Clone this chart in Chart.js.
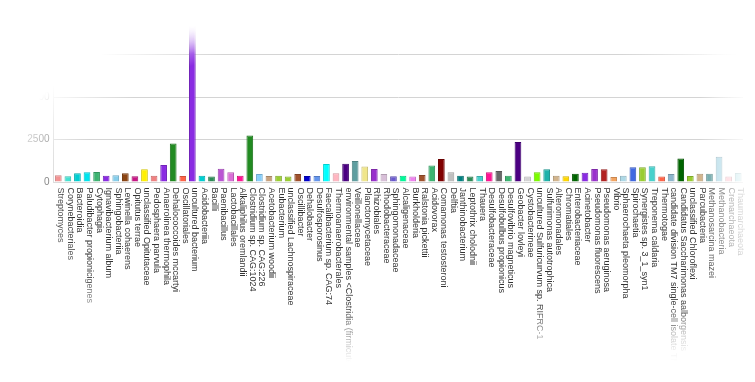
<!DOCTYPE html>
<html>
<head>
<meta charset="utf-8">
<script src="https://cdn.jsdelivr.net/npm/chart.js@4.4.1/dist/chart.umd.min.js"></script>
<style>
  html, body { margin: 0; padding: 0; background: #ffffff; }
  #m1 { position: absolute; left: 0; top: 0; width: 755px; height: 382px;
        -webkit-mask-image: linear-gradient(to right, #000 0px, #000 700px, transparent 752px);
        mask-image: linear-gradient(to right, #000 0px, #000 700px, transparent 752px);
        filter: blur(0.4px); }
  #m2 { width: 755px; height: 382px;
        -webkit-mask-image: linear-gradient(to bottom, transparent 26px, #000 54px, #000 300px, transparent 362px);
        mask-image: linear-gradient(to bottom, transparent 26px, #000 54px, #000 300px, transparent 362px); }
  #m3 { width: 755px; height: 382px;
        -webkit-mask-image: radial-gradient(400px 200px at 420px 200px, #000 88%, transparent 108%);
        mask-image: radial-gradient(400px 200px at 420px 200px, #000 88%, transparent 108%); }
  canvas { display: block; }
</style>
</head>
<body>
<div id="m1"><div id="m2"><div id="m3"><canvas id="c" width="755" height="382"></canvas></div></div></div>
<script>
const categories = [
  "Streptomyces", "Corynebacteriales", "Bacteroidia", "Paludibacter propionicigenes", "Cytophagia",
  "Ignavibacterium album", "Sphingobacteriia", "Lewinella cohaerens", "Opitutus terrae", "unclassified Opitutaceae",
  "Pedosphaera parvula", "Anaerolinea thermophila", "Dehalococcoides mccartyi", "Oscillatoriales", "uncultured bacterium",
  "Acidobacteriia", "Bacilli", "Paenibacillus", "Lactobacillales", "Alkaliphilus oremlandii",
  "Clostridium sp. CAG:1024", "Clostridium sp. CAG:226", "Acetobacterium woodii", "Eubacterium", "unclassified Lachnospiraceae",
  "Oscillibacter", "Dehalobacter", "Desulfosporosinus", "Faecalibacterium sp. CAG:74", "Thermoanaerobacterales",
  "environmental samples <Clostridia (firmicutes)>", "Veillonellaceae", "Planctomycetaceae", "Rhizobiales", "Rhodobacteraceae",
  "Sphingomonadaceae", "Alcaligenaceae", "Burkholderia", "Ralstonia pickettii", "Acidovorax",
  "Comamonas testosteroni", "Delftia", "Janthinobacterium", "Leptothrix cholodnii", "Thauera",
  "Desulfobacteraceae", "Desulfobulbus propionicus", "Desulfovibrio magneticus", "Geobacter lovleyi", "Cystobacterineae",
  "uncultured Sulfuricurvum sp. RIFRC-1", "Sulfurimonas autotrophica", "Alteromonadales", "Chromatiales", "Enterobacteriaceae",
  "Acinetobacter", "Pseudomonas fluorescens", "Pseudomonas aeruginosa", "Vibrio", "Sphaerochaeta pleomorpha",
  "Spirochaetia", "Synergistes sp. 3_1_syn1", "Treponema caldaria", "Thermotogae", "candidate division TM7 single-cell isolate TM7c",
  "Candidatus Saccharimonas aalborgensis", "unclassified Chloroflexi", "Parcubacteria", "Methanosarcina mazei", "Methanobacteria",
  "Crenarchaeota", "Thaumarchaeota"
];
const values = [
  400, 335, 510, 570, 590,
  375, 395, 510, 335, 750,
  375, 1000, 2260, 355, 9400,
  375, 320, 780, 570, 375,
  2730, 470, 355, 375, 320,
  470, 355, 355, 1060, 510,
  1080, 1240, 905, 770, 470,
  335, 375, 320, 415, 965,
  1360, 570, 375, 320, 355,
  570, 650, 375, 2360, 320,
  570, 750, 375, 335, 490,
  550, 770, 750, 300, 375,
  865, 865, 925, 320, 470,
  1380, 355, 490, 490, 1480,
  320, 530
];
const barColors = [
  "#F08080", "#40E0D0", "#00CED1", "#00E5EE", "#3CB371",
  "#8A2BE2", "#87CEEB", "#8B4513", "#C71585", "#FFF000",
  "#F08080", "#8A2BE2", "#228B22", "#FF6347", "#8A2BE2",
  "#00CED1", "#2E8B57", "#BA55D3", "#DA70D6", "#FF1493",
  "#228B22", "#87CEFA", "#C9A27E", "#9ACD32", "#9ACD32",
  "#A0522D", "#0000CD", "#6495ED", "#00FFFF", "#FFB6C1",
  "#4B0082", "#5F9EA0", "#F0E68C", "#9932CC", "#D8BFD8",
  "#6A5ACD", "#00FA9A", "#EE82EE", "#A0522D", "#3CB371",
  "#800000", "#C0C0C0", "#008080", "#2E8B57", "#48D1CC",
  "#FF1493", "#696969", "#3CB371", "#4B0082", "#D3D3D3",
  "#7CFC00", "#20B2AA", "#D2B48C", "#FFD700", "#006400",
  "#8A2BE2", "#9932CC", "#B22222", "#F4A460", "#ADD8E6",
  "#4169E1", "#9ACD32", "#48D1CC", "#FF6347", "#8DB6CD",
  "#006400", "#9ACD32", "#D2B48C", "#5F9EA0", "#ADD8E6",
  "#FFC0CB", "#B0E0E6"
];
const yTicks = [0, 2500, 5000, 7500, 10000];

function darken(hex, f) {
  const n = parseInt(hex.slice(1), 16);
  const r = Math.round(((n >> 16) & 255) * f);
  const g = Math.round(((n >> 8) & 255) * f);
  const b = Math.round((n & 255) * f);
  return "rgb(" + r + "," + g + "," + b + ")";
}

const labelPlugin = {
  id: "verticalLabels",
  afterDraw(chart) {
    const xs = chart.scales.x;
    const ctx = chart.ctx;
    const y0 = chart.chartArea.bottom + 5.5;
    ctx.save();
    ctx.font = '9px "Liberation Sans", Arial, sans-serif';
    ctx.fillStyle = "#333333";
    ctx.textAlign = "left";
    ctx.textBaseline = "alphabetic";
    categories.forEach((name, i) => {
      const x = xs.getPixelForTick(i);
      ctx.save();
      ctx.translate(x, y0);
      ctx.rotate(Math.PI / 2);
      ctx.fillText(name, 0, 0);
      ctx.restore();
    });
    ctx.restore();
  }
};

Chart.defaults.font.family = '"Liberation Sans", Arial, sans-serif';

new Chart(document.getElementById("c"), {
  type: "bar",
  data: {
    labels: categories,
    datasets: [{
      data: values,
      backgroundColor: barColors,
      borderColor: barColors.map(c => darken(c, 0.82)),
      borderWidth: 1,
      barPercentage: 0.7,
      categoryPercentage: 1.0
    }]
  },
  options: {
    responsive: false,
    animation: false,
    layout: { padding: { left: 0, top: 12, right: 12, bottom: 200 } },
    plugins: { legend: { display: false }, tooltip: { enabled: false } },
    scales: {
      x: {
        ticks: { display: false },
        grid: { display: false, drawTicks: false },
        border: { display: false }
      },
      y: {
        min: 0,
        max: 10000,
        afterBuildTicks: (s) => { s.ticks = yTicks.map(v => ({ value: v })); },
        afterFit: (s) => { s.width = 53.5; },
        ticks: { padding: 4, color: "#555555", font: { size: 10 }, callback: (v) => String(v) },
        grid: { color: "#d4d4d4", drawTicks: false },
        border: { display: true, color: "#d4d4d4" }
      }
    }
  },
  plugins: [labelPlugin]
});
</script>
</body>
</html>
